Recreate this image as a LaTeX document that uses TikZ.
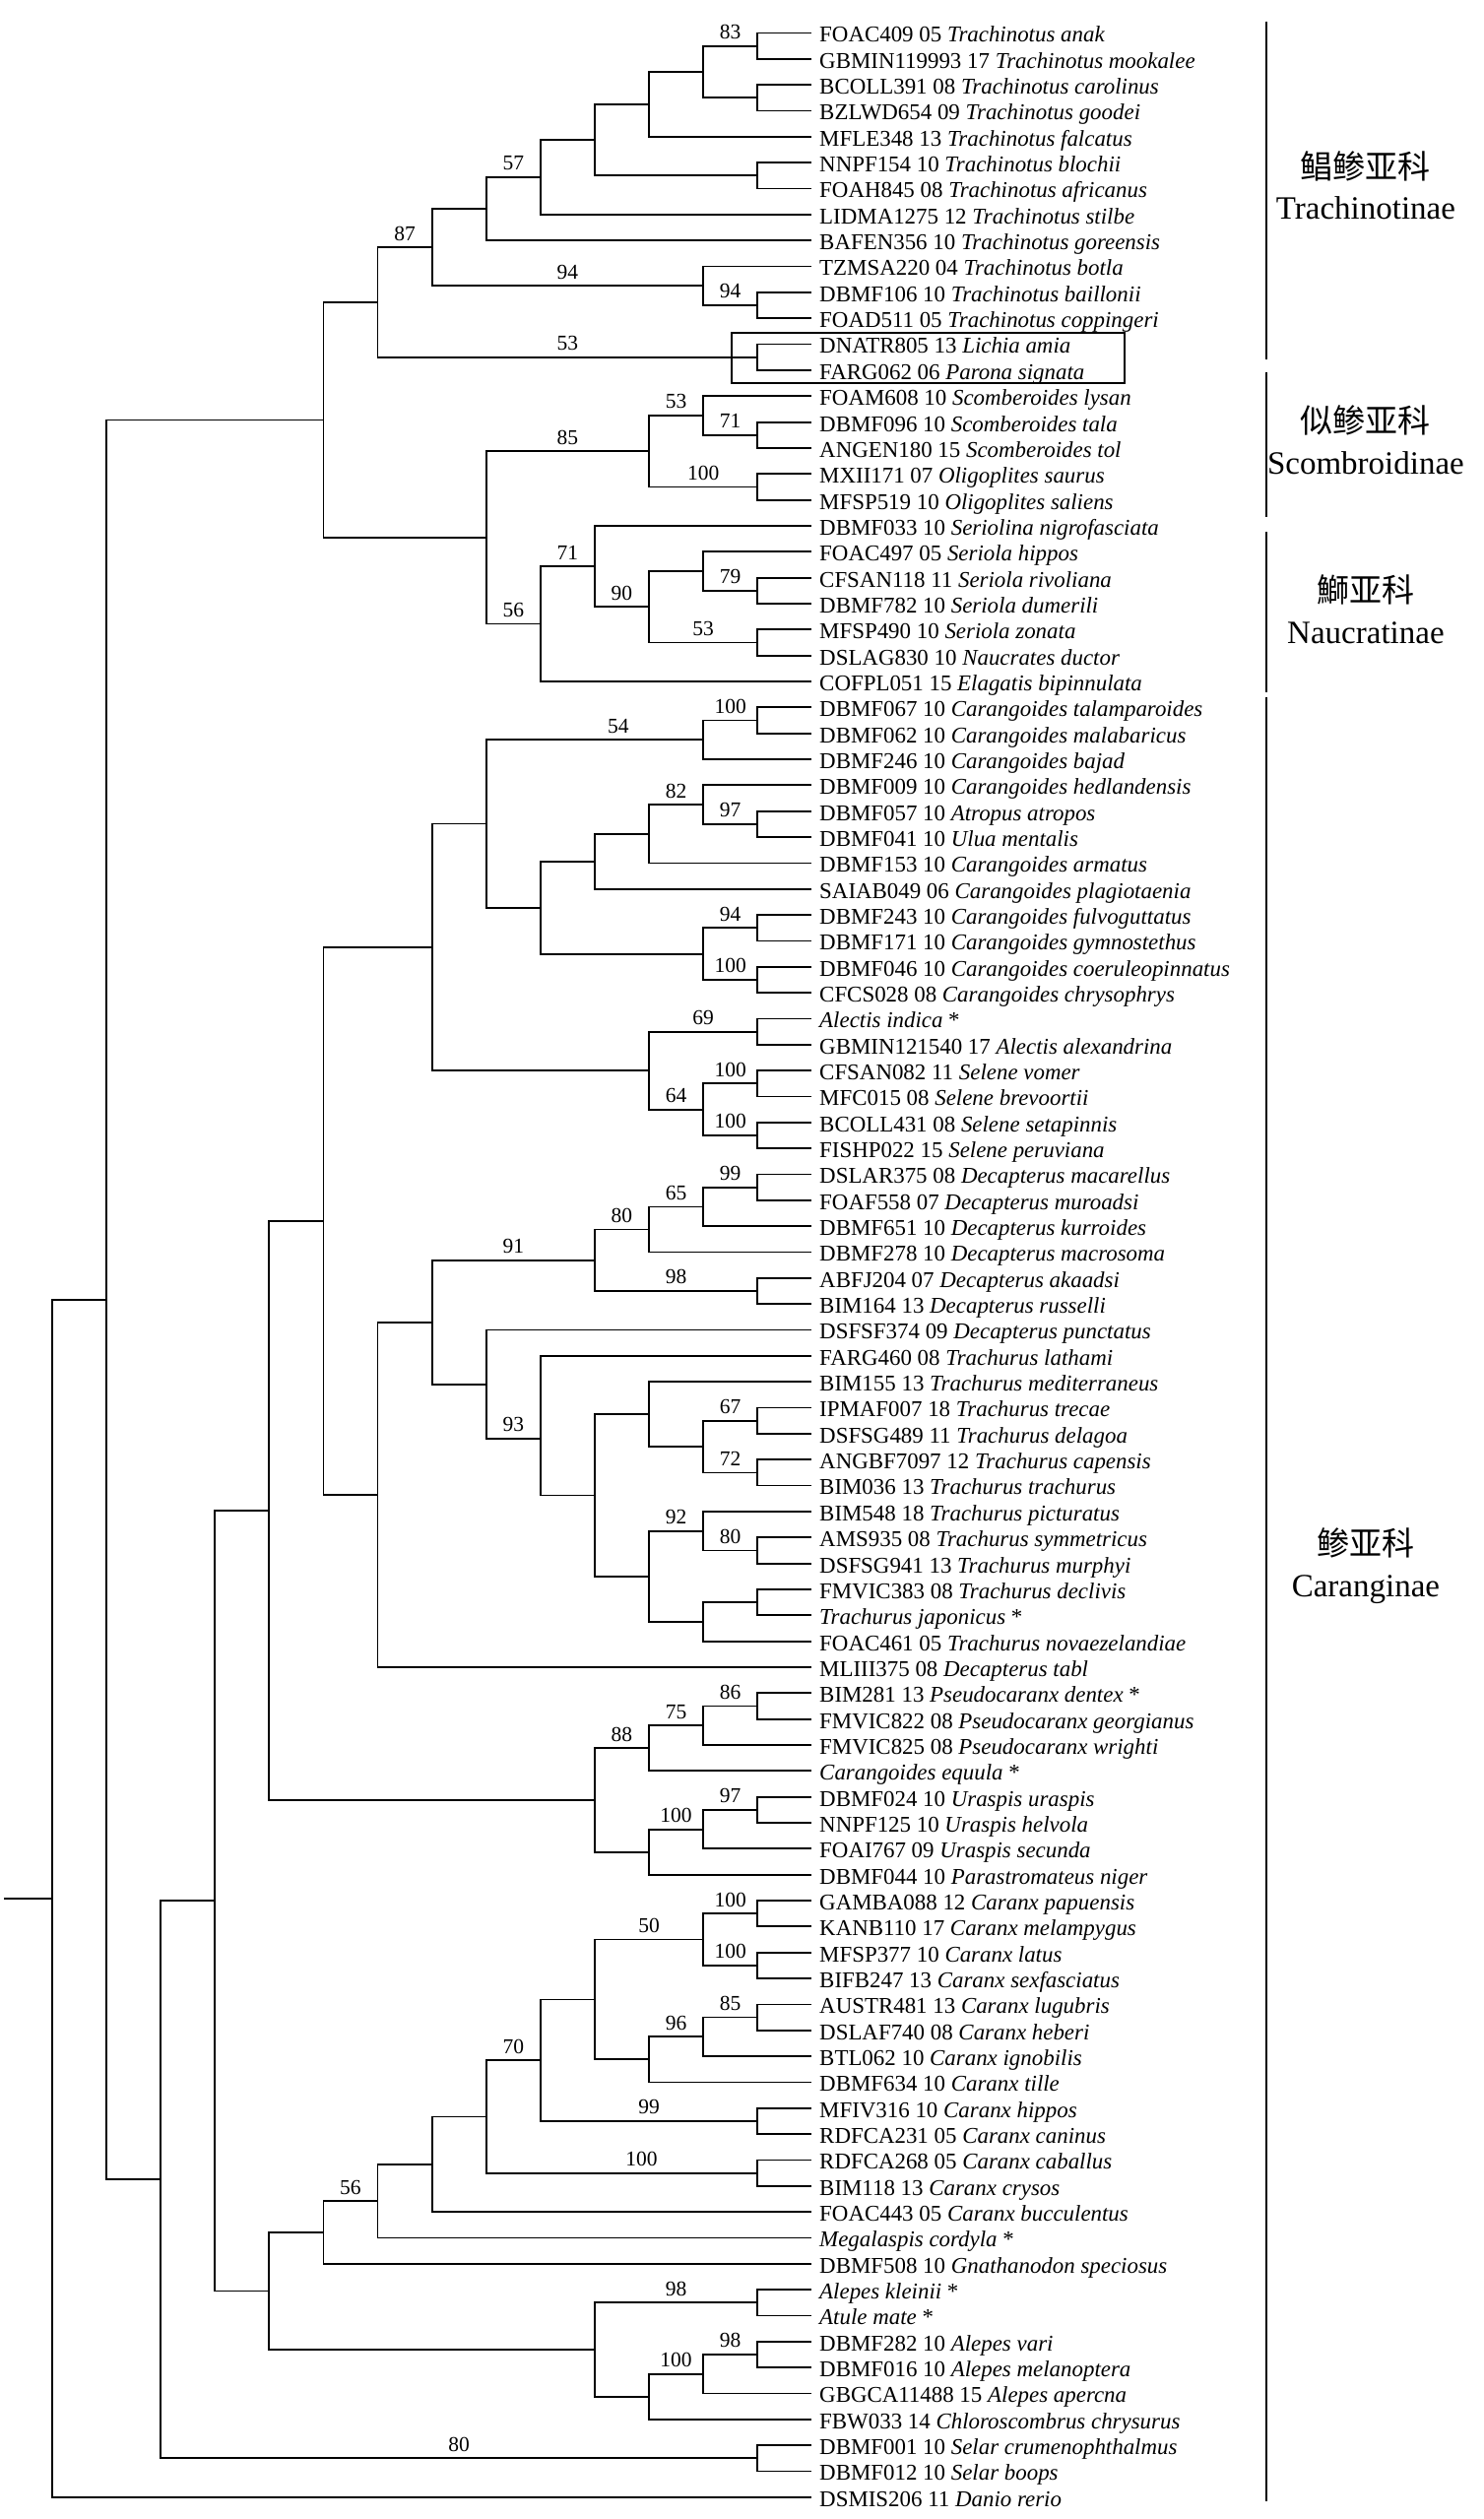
\documentclass[tikz,border=0pt]{standalone}
\usepackage{fontspec}
\setmainfont{Liberation Serif}
\newfontfamily\cjk{Noto Sans CJK SC}

\begin{document}
\begin{tikzpicture}[x=27.55pt, y=-13.17pt, line width=0.9pt,
    leaf/.style={anchor=west, inner xsep=3.5pt, inner ysep=0pt, text height=11pt, text depth=1.6pt, font=\fontsize{11.45}{13}\selectfont},
    boot/.style={pos=0.75, above=3pt, inner sep=0pt, font=\fontsize{10.75}{12}\selectfont},
    grp/.style={anchor=base, inner sep=0pt, font=\fontsize{16.5}{18}\selectfont},
    subfam/.style={line width=1.1pt}]

            \useasboundingbox (0.0399,-0.2718) rectangle (27.372,96.84);

            \node (L1) [leaf] at (15,1) {FOAC409 05 \textit{Trachinotus anak}};
            \node (L2) [leaf] at (15,2) {GBMIN119993 17 \textit{Trachinotus mookalee}};
            \node (L3) [leaf] at (15,3) {BCOLL391 08 \textit{Trachinotus carolinus}};
            \node (L4) [leaf] at (15,4) {BZLWD654 09 \textit{Trachinotus goodei}};
            \node (L5) [leaf] at (15,5) {MFLE348 13 \textit{Trachinotus falcatus}};
            \node (L6) [leaf] at (15,6) {NNPF154 10 \textit{Trachinotus blochii}};
            \node (L7) [leaf] at (15,7) {FOAH845 08 \textit{Trachinotus africanus}};
            \node (L8) [leaf] at (15,8) {LIDMA1275 12 \textit{Trachinotus stilbe}};
            \node (L9) [leaf] at (15,9) {BAFEN356 10 \textit{Trachinotus goreensis}};
            \node (L10) [leaf] at (15,10) {TZMSA220 04 \textit{Trachinotus botla}};
            \node (L11) [leaf] at (15,11) {DBMF106 10 \textit{Trachinotus baillonii}};
            \node (L12) [leaf] at (15,12) {FOAD511 05 \textit{Trachinotus coppingeri}};
            \node (L13) [leaf] at (15,13) {DNATR805 13 \textit{Lichia amia}};
            \node (L14) [leaf] at (15,14) {FARG062 06 \textit{Parona signata}};
            \node (L15) [leaf] at (15,15) {FOAM608 10 \textit{Scomberoides lysan}};
            \node (L16) [leaf] at (15,16) {DBMF096 10 \textit{Scomberoides tala}};
            \node (L17) [leaf] at (15,17) {ANGEN180 15 \textit{Scomberoides tol}};
            \node (L18) [leaf] at (15,18) {MXII171 07 \textit{Oligoplites saurus}};
            \node (L19) [leaf] at (15,19) {MFSP519 10 \textit{Oligoplites saliens}};
            \node (L20) [leaf] at (15,20) {DBMF033 10 \textit{Seriolina nigrofasciata}};
            \node (L21) [leaf] at (15,21) {FOAC497 05 \textit{Seriola hippos}};
            \node (L22) [leaf] at (15,22) {CFSAN118 11 \textit{Seriola rivoliana}};
            \node (L23) [leaf] at (15,23) {DBMF782 10 \textit{Seriola dumerili}};
            \node (L24) [leaf] at (15,24) {MFSP490 10 \textit{Seriola zonata}};
            \node (L25) [leaf] at (15,25) {DSLAG830 10 \textit{Naucrates ductor}};
            \node (L26) [leaf] at (15,26) {COFPL051 15 \textit{Elagatis bipinnulata}};
            \node (L27) [leaf] at (15,27) {DBMF067 10 \textit{Carangoides talamparoides}};
            \node (L28) [leaf] at (15,28) {DBMF062 10 \textit{Carangoides malabaricus}};
            \node (L29) [leaf] at (15,29) {DBMF246 10 \textit{Carangoides bajad}};
            \node (L30) [leaf] at (15,30) {DBMF009 10 \textit{Carangoides hedlandensis}};
            \node (L31) [leaf] at (15,31) {DBMF057 10 \textit{Atropus atropos}};
            \node (L32) [leaf] at (15,32) {DBMF041 10 \textit{Ulua mentalis}};
            \node (L33) [leaf] at (15,33) {DBMF153 10 \textit{Carangoides armatus}};
            \node (L34) [leaf] at (15,34) {SAIAB049 06 \textit{Carangoides plagiotaenia}};
            \node (L35) [leaf] at (15,35) {DBMF243 10 \textit{Carangoides fulvoguttatus}};
            \node (L36) [leaf] at (15,36) {DBMF171 10 \textit{Carangoides gymnostethus}};
            \node (L37) [leaf] at (15,37) {DBMF046 10 \textit{Carangoides coeruleopinnatus}};
            \node (L38) [leaf] at (15,38) {CFCS028 08 \textit{Carangoides chrysophrys}};
            \node (L39) [leaf] at (15,39) {\textit{Alectis indica} *};
            \node (L40) [leaf] at (15,40) {GBMIN121540 17 \textit{Alectis alexandrina}};
            \node (L41) [leaf] at (15,41) {CFSAN082 11 \textit{Selene vomer}};
            \node (L42) [leaf] at (15,42) {MFC015 08 \textit{Selene brevoortii}};
            \node (L43) [leaf] at (15,43) {BCOLL431 08 \textit{Selene setapinnis}};
            \node (L44) [leaf] at (15,44) {FISHP022 15 \textit{Selene peruviana}};
            \node (L45) [leaf] at (15,45) {DSLAR375 08 \textit{Decapterus macarellus}};
            \node (L46) [leaf] at (15,46) {FOAF558 07 \textit{Decapterus muroadsi}};
            \node (L47) [leaf] at (15,47) {DBMF651 10 \textit{Decapterus kurroides}};
            \node (L48) [leaf] at (15,48) {DBMF278 10 \textit{Decapterus macrosoma}};
            \node (L49) [leaf] at (15,49) {ABFJ204 07 \textit{Decapterus akaadsi}};
            \node (L50) [leaf] at (15,50) {BIM164 13 \textit{Decapterus russelli}};
            \node (L51) [leaf] at (15,51) {DSFSF374 09 \textit{Decapterus punctatus}};
            \node (L52) [leaf] at (15,52) {FARG460 08 \textit{Trachurus lathami}};
            \node (L53) [leaf] at (15,53) {BIM155 13 \textit{Trachurus mediterraneus}};
            \node (L54) [leaf] at (15,54) {IPMAF007 18 \textit{Trachurus trecae}};
            \node (L55) [leaf] at (15,55) {DSFSG489 11 \textit{Trachurus delagoa}};
            \node (L56) [leaf] at (15,56) {ANGBF7097 12 \textit{Trachurus capensis}};
            \node (L57) [leaf] at (15,57) {BIM036 13 \textit{Trachurus trachurus}};
            \node (L58) [leaf] at (15,58) {BIM548 18 \textit{Trachurus picturatus}};
            \node (L59) [leaf] at (15,59) {AMS935 08 \textit{Trachurus symmetricus}};
            \node (L60) [leaf] at (15,60) {DSFSG941 13 \textit{Trachurus murphyi}};
            \node (L61) [leaf] at (15,61) {FMVIC383 08 \textit{Trachurus declivis}};
            \node (L62) [leaf] at (15,62) {\textit{Trachurus japonicus} *};
            \node (L63) [leaf] at (15,63) {FOAC461 05 \textit{Trachurus novaezelandiae}};
            \node (L64) [leaf] at (15,64) {MLIII375 08 \textit{Decapterus tabl}};
            \node (L65) [leaf] at (15,65) {BIM281 13 \textit{Pseudocaranx dentex} *};
            \node (L66) [leaf] at (15,66) {FMVIC822 08 \textit{Pseudocaranx georgianus}};
            \node (L67) [leaf] at (15,67) {FMVIC825 08 \textit{Pseudocaranx wrighti}};
            \node (L68) [leaf] at (15,68) {\textit{Carangoides equula} *};
            \node (L69) [leaf] at (15,69) {DBMF024 10 \textit{Uraspis uraspis}};
            \node (L70) [leaf] at (15,70) {NNPF125 10 \textit{Uraspis helvola}};
            \node (L71) [leaf] at (15,71) {FOAI767 09 \textit{Uraspis secunda}};
            \node (L72) [leaf] at (15,72) {DBMF044 10 \textit{Parastromateus niger}};
            \node (L73) [leaf] at (15,73) {GAMBA088 12 \textit{Caranx papuensis}};
            \node (L74) [leaf] at (15,74) {KANB110 17 \textit{Caranx melampygus}};
            \node (L75) [leaf] at (15,75) {MFSP377 10 \textit{Caranx latus}};
            \node (L76) [leaf] at (15,76) {BIFB247 13 \textit{Caranx sexfasciatus}};
            \node (L77) [leaf] at (15,77) {AUSTR481 13 \textit{Caranx lugubris}};
            \node (L78) [leaf] at (15,78) {DSLAF740 08 \textit{Caranx heberi}};
            \node (L79) [leaf] at (15,79) {BTL062 10 \textit{Caranx ignobilis}};
            \node (L80) [leaf] at (15,80) {DBMF634 10 \textit{Caranx tille}};
            \node (L81) [leaf] at (15,81) {MFIV316 10 \textit{Caranx hippos}};
            \node (L82) [leaf] at (15,82) {RDFCA231 05 \textit{Caranx caninus}};
            \node (L83) [leaf] at (15,83) {RDFCA268 05 \textit{Caranx caballus}};
            \node (L84) [leaf] at (15,84) {BIM118 13 \textit{Caranx crysos}};
            \node (L85) [leaf] at (15,85) {FOAC443 05 \textit{Caranx bucculentus}};
            \node (L86) [leaf] at (15,86) {\textit{Megalaspis cordyla} *};
            \node (L87) [leaf] at (15,87) {DBMF508 10 \textit{Gnathanodon speciosus}};
            \node (L88) [leaf] at (15,88) {\textit{Alepes kleinii} *};
            \node (L89) [leaf] at (15,89) {\textit{Atule mate} *};
            \node (L90) [leaf] at (15,90) {DBMF282 10 \textit{Alepes vari}};
            \node (L91) [leaf] at (15,91) {DBMF016 10 \textit{Alepes melanoptera}};
            \node (L92) [leaf] at (15,92) {GBGCA11488 15 \textit{Alepes apercna}};
            \node (L93) [leaf] at (15,93) {FBW033 14 \textit{Chloroscombrus chrysurus}};
            \node (L94) [leaf] at (15,94) {DBMF001 10 \textit{Selar crumenophthalmus}};
            \node (L95) [leaf] at (15,95) {DBMF012 10 \textit{Selar boops}};
            \node (L96) [leaf] at (15,96) {DSMIS206 11 \textit{Danio rerio}};

            \coordinate (a1) at (14,1.5);
            \coordinate (a2) at (14,3.5);
            \coordinate (a3) at (13,2.5);
            \coordinate (a4) at (12,3.75);
            \coordinate (a5) at (14,6.5);
            \coordinate (a6) at (11,5.125);
            \coordinate (a7) at (10,6.5625);
            \coordinate (a8) at (9,7.78125);
            \coordinate (a9) at (14,11.5);
            \coordinate (a10) at (13,10.75);
            \coordinate (a11) at (8,9.265625);
            \coordinate (a12) at (14,13.5);
            \coordinate (a13) at (7,11.3828125);

            \coordinate (b1) at (14,16.5);
            \coordinate (b2) at (13,15.75);
            \coordinate (b3) at (14,18.5);
            \coordinate (b4) at (12,17.125);
            \coordinate (b5) at (14,22.5);
            \coordinate (b6) at (13,21.75);
            \coordinate (b7) at (14,24.5);
            \coordinate (b8) at (12,23.125);
            \coordinate (b9) at (11,21.5625);
            \coordinate (b10) at (10,23.78125);
            \coordinate (b11) at (9,20.453125);

            \coordinate (c1) at (14,27.5);
            \coordinate (c2) at (13,28.25);
            \coordinate (c3) at (14,31.5);
            \coordinate (c4) at (13,30.75);
            \coordinate (c5) at (12,31.875);
            \coordinate (c6) at (11,32.9375);
            \coordinate (c7) at (14,35.5);
            \coordinate (c8) at (14,37.5);
            \coordinate (c9) at (13,36.5);
            \coordinate (c10) at (10,34.71875);
            \coordinate (c11) at (9,31.484375);
            \coordinate (c12) at (14,39.5);
            \coordinate (c13) at (14,41.5);
            \coordinate (c14) at (14,43.5);
            \coordinate (c15) at (13,42.5);
            \coordinate (c16) at (12,41);
            \coordinate (c17) at (8,36.2421875);

            \coordinate (d1) at (14,45.5);
            \coordinate (d2) at (13,46.25);
            \coordinate (d3) at (12,47.125);
            \coordinate (d4) at (14,49.5);
            \coordinate (d5) at (11,48.3125);
            \coordinate (d6) at (14,54.5);
            \coordinate (d7) at (14,56.5);
            \coordinate (d8) at (13,55.5);
            \coordinate (d9) at (12,54.25);
            \coordinate (d10) at (14,59.5);
            \coordinate (d11) at (13,58.75);
            \coordinate (d12) at (14,61.5);
            \coordinate (d13) at (13,62.25);
            \coordinate (d14) at (12,60.5);
            \coordinate (d15) at (11,57.375);
            \coordinate (d16) at (10,55.1875);
            \coordinate (d17) at (9,53.09375);
            \coordinate (d18) at (8,50.703125);
            \coordinate (d19) at (7,57.3515625);

            \coordinate (e1) at (14,65.5);
            \coordinate (e2) at (13,66.25);
            \coordinate (e3) at (12,67.125);
            \coordinate (e4) at (14,69.5);
            \coordinate (e5) at (13,70.25);
            \coordinate (e6) at (12,71.125);
            \coordinate (e7) at (11,69.125);

            \coordinate (f1) at (14,73.5);
            \coordinate (f2) at (14,75.5);
            \coordinate (f3) at (13,74.5);
            \coordinate (f4) at (14,77.5);
            \coordinate (f5) at (13,78.25);
            \coordinate (f6) at (12,79.125);
            \coordinate (f7) at (11,76.8125);
            \coordinate (f8) at (14,81.5);
            \coordinate (f9) at (10,79.15625);
            \coordinate (f10) at (14,83.5);
            \coordinate (f11) at (9,81.328125);
            \coordinate (f12) at (8,83.1640625);
            \coordinate (f13) at (7,84.58203125);
            \coordinate (f14) at (6,85.791015625);

            \coordinate (g1) at (14,88.5);
            \coordinate (g2) at (14,90.5);
            \coordinate (g3) at (13,91.25);
            \coordinate (g4) at (12,92.125);
            \coordinate (g5) at (11,90.3125);
            \coordinate (g6) at (14,94.5);

            \coordinate (r1) at (6,15.91796875);
            \coordinate (r2) at (6,46.796875);
            \coordinate (r3) at (5,57.9609375);
            \coordinate (r4) at (5,88.0517578);
            \coordinate (r5) at (4,73.0063477);
            \coordinate (r6) at (3,83.7531738);
            \coordinate (r7) at (2,49.8355713);
            \coordinate (r8) at (1,72.9177856);
            \coordinate (root) at (0.1125,72.9177856);

            \draw (a1) |- (L1.west);
            \draw (a1) |- (L2.west);
            \draw (a2) |- (L3.west);
            \draw (a2) |- (L4.west);
            \draw (a3) |- node [boot] {83} (a1);
            \draw (a3) |- (a2);
            \draw (a4) |- (a3);
            \draw (a4) |- (L5.west);
            \draw (a5) |- (L6.west);
            \draw (a5) |- (L7.west);
            \draw (a6) |- (a4);
            \draw (a6) |- (a5);
            \draw (a7) |- (a6);
            \draw (a7) |- (L8.west);
            \draw (a8) |- node [boot] {57} (a7);
            \draw (a8) |- (L9.west);
            \draw (a9) |- (L11.west);
            \draw (a9) |- (L12.west);
            \draw (a10) |- (L10.west);
            \draw (a10) |- node [boot] {94} (a9);
            \draw (a11) |- (a8);
            \draw (a11) |- node [boot] {94} (a10);
            \draw (a12) |- (L13.west);
            \draw (a12) |- (L14.west);
            \draw (a13) |- node [boot] {87} (a11);
            \draw (a13) |- node [boot] {53} (a12);

            \draw (b1) |- (L16.west);
            \draw (b1) |- (L17.west);
            \draw (b2) |- (L15.west);
            \draw (b2) |- node [boot] {71} (b1);
            \draw (b3) |- (L18.west);
            \draw (b3) |- (L19.west);
            \draw (b4) |- node [boot] {53} (b2);
            \draw (b4) |- node [boot] {100} (b3);
            \draw (b5) |- (L22.west);
            \draw (b5) |- (L23.west);
            \draw (b6) |- (L21.west);
            \draw (b6) |- node [boot] {79} (b5);
            \draw (b7) |- (L24.west);
            \draw (b7) |- (L25.west);
            \draw (b8) |- (b6);
            \draw (b8) |- node [boot] {53} (b7);
            \draw (b9) |- (L20.west);
            \draw (b9) |- node [boot] {90} (b8);
            \draw (b10) |- node [boot] {71} (b9);
            \draw (b10) |- (L26.west);
            \draw (b11) |- node [boot] {85} (b4);
            \draw (b11) |- node [boot] {56} (b10);
            \draw (r1) |- (a13);
            \draw (r1) |- (b11);

            \draw (c1) |- (L27.west);
            \draw (c1) |- (L28.west);
            \draw (c2) |- node [boot] {100} (c1);
            \draw (c2) |- (L29.west);
            \draw (c3) |- (L31.west);
            \draw (c3) |- (L32.west);
            \draw (c4) |- (L30.west);
            \draw (c4) |- node [boot] {97} (c3);
            \draw (c5) |- node [boot] {82} (c4);
            \draw (c5) |- (L33.west);
            \draw (c6) |- (c5);
            \draw (c6) |- (L34.west);
            \draw (c7) |- (L35.west);
            \draw (c7) |- (L36.west);
            \draw (c8) |- (L37.west);
            \draw (c8) |- (L38.west);
            \draw (c9) |- node [boot] {94} (c7);
            \draw (c9) |- node [boot] {100} (c8);
            \draw (c10) |- (c6);
            \draw (c10) |- (c9);
            \draw (c11) |- node [boot, xshift=12pt] {54} (c2);
            \draw (c11) |- (c10);
            \draw (c12) |- (L39.west);
            \draw (c12) |- (L40.west);
            \draw (c13) |- (L41.west);
            \draw (c13) |- (L42.west);
            \draw (c14) |- (L43.west);
            \draw (c14) |- (L44.west);
            \draw (c15) |- node [boot] {100} (c13);
            \draw (c15) |- node [boot] {100} (c14);
            \draw (c16) |- node [boot] {69} (c12);
            \draw (c16) |- node [boot] {64} (c15);
            \draw (c17) |- (c11);
            \draw (c17) |- (c16);

            \draw (d1) |- (L45.west);
            \draw (d1) |- (L46.west);
            \draw (d2) |- node [boot] {99} (d1);
            \draw (d2) |- (L47.west);
            \draw (d3) |- node [boot] {65} (d2);
            \draw (d3) |- (L48.west);
            \draw (d4) |- (L49.west);
            \draw (d4) |- (L50.west);
            \draw (d5) |- node [boot] {80} (d3);
            \draw (d5) |- node [boot] {98} (d4);
            \draw (d6) |- (L54.west);
            \draw (d6) |- (L55.west);
            \draw (d7) |- (L56.west);
            \draw (d7) |- (L57.west);
            \draw (d8) |- node [boot] {67} (d6);
            \draw (d8) |- node [boot] {72} (d7);
            \draw (d9) |- (L53.west);
            \draw (d9) |- (d8);
            \draw (d10) |- (L59.west);
            \draw (d10) |- (L60.west);
            \draw (d11) |- (L58.west);
            \draw (d11) |- node [boot] {80} (d10);
            \draw (d12) |- (L61.west);
            \draw (d12) |- (L62.west);
            \draw (d13) |- (d12);
            \draw (d13) |- (L63.west);
            \draw (d14) |- node [boot] {92} (d11);
            \draw (d14) |- (d13);
            \draw (d15) |- (d9);
            \draw (d15) |- (d14);
            \draw (d16) |- (L52.west);
            \draw (d16) |- (d15);
            \draw (d17) |- (L51.west);
            \draw (d17) |- node [boot] {93} (d16);
            \draw (d18) |- node [boot] {91} (d5);
            \draw (d18) |- (d17);
            \draw (d19) |- (d18);
            \draw (d19) |- (L64.west);
            \draw (r2) |- (c17);
            \draw (r2) |- (d19);

            \draw (e1) |- (L65.west);
            \draw (e1) |- (L66.west);
            \draw (e2) |- node [boot] {86} (e1);
            \draw (e2) |- (L67.west);
            \draw (e3) |- node [boot] {75} (e2);
            \draw (e3) |- (L68.west);
            \draw (e4) |- (L69.west);
            \draw (e4) |- (L70.west);
            \draw (e5) |- node [boot] {97} (e4);
            \draw (e5) |- (L71.west);
            \draw (e6) |- node [boot] {100} (e5);
            \draw (e6) |- (L72.west);
            \draw (e7) |- node [boot] {88} (e3);
            \draw (e7) |- (e6);
            \draw (r3) |- (r2);
            \draw (r3) |- (e7);

            \draw (f1) |- (L73.west);
            \draw (f1) |- (L74.west);
            \draw (f2) |- (L75.west);
            \draw (f2) |- (L76.west);
            \draw (f3) |- node [boot] {100} (f1);
            \draw (f3) |- node [boot] {100} (f2);
            \draw (f4) |- (L77.west);
            \draw (f4) |- (L78.west);
            \draw (f5) |- node [boot] {85} (f4);
            \draw (f5) |- (L79.west);
            \draw (f6) |- node [boot] {96} (f5);
            \draw (f6) |- (L80.west);
            \draw (f7) |- node [boot] {50} (f3);
            \draw (f7) |- (f6);
            \draw (f8) |- (L81.west);
            \draw (f8) |- (L82.west);
            \draw (f9) |- (f7);
            \draw (f9) |- node [boot] {99} (f8);
            \draw (f10) |- (L83.west);
            \draw (f10) |- (L84.west);
            \draw (f11) |- node [boot] {70} (f9);
            \draw (f11) |- node [boot, xshift=10pt] {100} (f10);
            \draw (f12) |- (f11);
            \draw (f12) |- (L85.west);
            \draw (f13) |- (f12);
            \draw (f13) |- (L86.west);
            \draw (f14) |- node [boot] {56} (f13);
            \draw (f14) |- (L87.west);
            \draw (g1) |- (L88.west);
            \draw (g1) |- (L89.west);
            \draw (g2) |- (L90.west);
            \draw (g2) |- (L91.west);
            \draw (g3) |- node [boot] {98} (g2);
            \draw (g3) |- (L92.west);
            \draw (g4) |- node [boot] {100} (g3);
            \draw (g4) |- (L93.west);
            \draw (g5) |- node [boot] {98} (g1);
            \draw (g5) |- (g4);
            \draw (r4) |- (f14);
            \draw (r4) |- (g5);
            \draw (r5) |- (r3);
            \draw (r5) |- (r4);
            \draw (g6) |- (L94.west);
            \draw (g6) |- (L95.west);
            \draw (r6) |- (r5);
            \draw (r6) |- node [boot] {80} (g6);
            \draw (r7) |- (r1);
            \draw (r7) |- (r6);
            \draw (r8) |- (r7);
            \draw (r8) |- (L96.west);
            \draw (root) -- (r8);

            \draw (13.524,12.56) rectangle (20.766,14.497);

            \draw [subfam] (23.379,0.563) -- (23.379,13.585);
            \draw [subfam] (23.379,14.079) -- (23.379,19.66);
            \draw [subfam] (23.379,20.23) -- (23.379,26.418);
            \draw [subfam] (23.379,26.608) -- (23.379,96.157);

            \node (trachzh) [grp] at (25.21,6.6) {\cjk 鲳鲹亚科};
            \node (trachen) [grp] at (25.21,8.194) {Trachinotinae};
            \node (scombzh) [grp] at (25.21,16.395) {\cjk 似鲹亚科};
            \node (scomben) [grp] at (25.21,17.99) {Scombroidinae};
            \node (naucrzh) [grp] at (25.21,22.925) {\cjk 鰤亚科};
            \node (naucren) [grp] at (25.21,24.52) {Naucratinae};
            \node (carangzh) [grp] at (25.21,59.675) {\cjk 鲹亚科};
            \node (carangen) [grp] at (25.21,61.27) {Caranginae};

        \end{tikzpicture}
\end{document}
